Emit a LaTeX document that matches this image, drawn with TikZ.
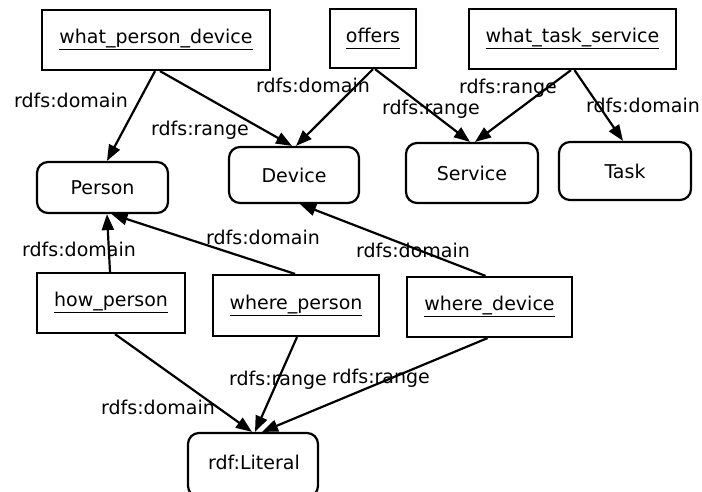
\documentclass[tikz,border=0pt]{standalone}
\usepackage{fontspec}
\setmainfont{DejaVu Sans}
\usetikzlibrary{arrows.meta}
\newcommand\ulx[1]{\setbox0\hbox{#1}\rlap{\rule[-6.5pt]{\wd0}{1.4pt}}\box0}
\tikzset{
  sq/.style={draw, line width=2.2pt, inner sep=0pt, font=\fontsize{19}{21}\selectfont},
  rd/.style={draw, line width=2.2pt, rounded corners=11pt, inner sep=0pt, font=\fontsize{19}{21}\selectfont},
  lbl/.style={inner sep=0pt, font=\fontsize{19}{21}\selectfont},
  arr/.style={line width=2.2pt, -{Triangle[length=16pt,width=12pt]}},
}
\begin{document}
\begin{tikzpicture}[x=1pt,y=-1pt]
\useasboundingbox[fill=white] (0,0) rectangle (702,491);
% top row
\node[sq, minimum width=228pt, minimum height=60pt] (wpd) at (156,40) {\ulx{what\_person\_device}};
\node[sq, minimum width=86pt, minimum height=59pt] (offers) at (373,38.5) {\ulx{offers}};
\node[sq, minimum width=207pt, minimum height=60pt] (wts) at (572.5,39) {\ulx{what\_task\_service}};
% class row
\node[rd, minimum width=131pt, minimum height=51pt] (person) at (102.5,187.5) {Person};
\node[rd, minimum width=130pt, minimum height=56pt] (device) at (294,175) {Device};
\node[rd, minimum width=132pt, minimum height=60pt] (service) at (472,173) {Service};
\node[rd, minimum width=132pt, minimum height=58pt] (task) at (625,171) {Task};
% lower row
\node[sq, minimum width=148pt, minimum height=60pt] (how) at (111,303) {\ulx{how\_person}};
\node[sq, minimum width=166pt, minimum height=61pt] (wp) at (296,305.5) {\ulx{where\_person}};
\node[sq, minimum width=165pt, minimum height=60pt] (wd) at (489.5,307) {\ulx{where\_device}};
\node[rd, minimum width=130pt, minimum height=64pt] (lit) at (253,465) {};
\node[lbl] (littext) at (254,462) {rdf:Literal};
% edges
\draw[arr] ([xshift=-1pt]wpd.south) -- ([xshift=4.5pt]person.north);
\draw[arr] ([xshift=4pt]wpd.south) -- ([xshift=-2pt]device.north);
\draw[arr] (offers.south) -- ([xshift=2pt]device.north);
\draw[arr] ([xshift=2pt]offers.south) -- ([xshift=-2pt]service.north);
\draw[arr] ([xshift=-1.5pt]wts.south) -- ([xshift=3pt]service.north);
\draw[arr] ([xshift=2pt]wts.south) -- ([xshift=-2pt]task.north);
\draw[arr] ([xshift=-1pt]how.north) -- ([xshift=4.5pt]person.south);
\draw[arr] ([xshift=-1pt]wp.north) -- ([xshift=9pt]person.south);
\draw[arr] ([xshift=-4pt]wd.north) -- ([xshift=6pt]device.south);
\draw[arr] ([xshift=4pt]how.south) -- ([xshift=-1pt]lit.north);
\draw[arr] ([xshift=1pt]wp.south) -- ([xshift=2pt]lit.north);
\draw[arr] ([xshift=-2pt]wd.south) -- ([xshift=9pt]lit.north);
% labels
\node[lbl] (l1) at (71,100) {rdfs:domain};
\node[lbl] (l2) at (200,130) {rdfs:range};
\node[lbl] (l3) at (313,85) {rdfs:domain};
\node[lbl] (l4) at (431,109) {rdfs:range};
\node[lbl] (l5) at (508,88) {rdfs:range};
\node[lbl] (l6) at (643,105) {rdfs:domain};
\node[lbl] (l7) at (79,249) {rdfs:domain};
\node[lbl] (l8) at (263,237) {rdfs:domain};
\node[lbl] (l9) at (413,250) {rdfs:domain};
\node[lbl] (l10) at (158,407) {rdfs:domain};
\node[lbl] (l11) at (278,380) {rdfs:range};
\node[lbl] (l12) at (381,378) {rdfs:range};
\end{tikzpicture}
\end{document}
